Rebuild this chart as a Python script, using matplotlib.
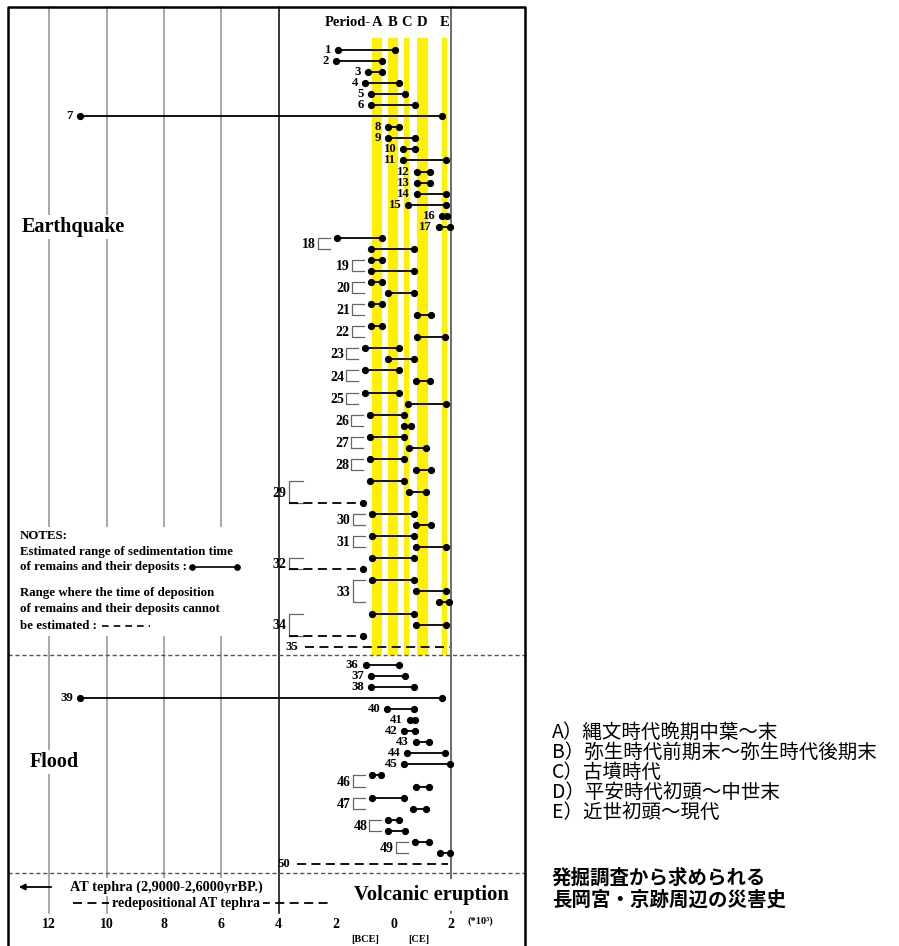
"""Disaster history around Nagaoka palace / Kyoto from excavation records."""

import matplotlib

matplotlib.use("Agg")
import matplotlib.pyplot as plt
from matplotlib.patches import Rectangle

# x values are in 10^3 years, negative = BCE
BAND_NAMES = ["A", "B", "C", "D", "E"]
BAND_LO = [-0.76, -0.20, 0.38, 0.81, 1.70]
BAND_HI = [-0.41, 0.17, 0.55, 1.21, 1.87]

# earthquake rows: record number, start, end, kind (s = dated range, d = undatable + end dot, n = undatable)
EQ_REC = [1, 2, 3, 4, 5, 6, 7, 8, 9, 10, 11, 12, 13, 14, 15, 16, 17,
          18, 18, 19, 19, 20, 20, 21, 21, 22, 22, 23, 23, 24, 24, 25, 25,
          26, 26, 27, 27, 28, 28, 29, 29, 29, 30, 30, 31, 31, 32, 32,
          33, 33, 33, 34, 34, 34, 35]
EQ_START = [-1.94, -2.01, -0.88, -0.99, -0.79, -0.79, -10.92, -0.20, -0.20, 0.34, 0.34, 0.81, 0.81, 0.81, 0.52, 1.70, 1.59,
            -1.98, -0.79, -0.79, -0.79, -0.79, -0.20, -0.79, 0.81, -0.79, 0.81, -0.99, -0.20, -0.99, 0.78, -0.98, 0.49,
            -0.81, 0.38, -0.81, 0.55, -0.81, 0.77, -0.81, 0.55, -3.65, -0.76, 0.77, -0.76, 0.77, -0.76, -3.65,
            -0.76, 0.77, 1.59, -0.76, 0.77, -3.65, -3.08]
EQ_END = [0.05, -0.39, -0.39, 0.19, 0.40, 0.75, 1.70, 0.19, 0.75, 0.75, 1.82, 1.27, 1.27, 1.82, 1.82, 1.85, 1.97,
          -0.41, 0.72, -0.41, 0.72, -0.41, 0.72, -0.41, 1.30, -0.41, 1.79, 0.20, 0.72, 0.20, 1.27, 0.20, 1.82,
          0.38, 0.60, 0.38, 1.12, 0.38, 1.30, 0.38, 1.12, -1.05, 0.71, 1.30, 0.71, 1.82, 0.71, -1.07,
          0.71, 1.82, 1.94, 0.71, 1.82, -1.06, 1.97]
EQ_KIND = ["s"] * 41 + ["d"] + ["s"] * 5 + ["d"] + ["s"] * 5 + ["d", "n"]

# flood rows
FL_REC = [36, 37, 38, 39, 40, 41, 42, 43, 44, 45, 46, 46, 47, 47, 48, 48, 49, 49, 50]
FL_START = [-0.97, -0.79, -0.79, -10.92, -0.22, 0.57, 0.37, 0.77, 0.48, 0.38, -0.76, 0.78, -0.76, 0.69, -0.18, -0.18, 0.75, 1.62, -3.36]
FL_END = [0.19, 0.40, 0.72, 1.70, 0.72, 0.75, 0.75, 1.25, 1.79, 1.97, -0.45, 1.25, 0.38, 1.13, 0.20, 0.40, 1.25, 1.97, 1.90]
FL_KIND = ["s"] * 18 + ["n"]

GRID_X = [-12, -10, -8, -6, -4, 2]
TICK_X = [-12, -10, -8, -6, -4, -2, 0, 2]
TICK_LABELS = ["12", "10", "8", "6", "4", "2", "0", "2"]

PERIOD_TEXT = ["A）縄文時代晩期中葉～末", "B）弥生時代前期末～弥生時代後期末", "C）古墳時代",
               "D）平安時代初頭～中世末", "E）近世初頭～現代"]
TITLE_JP = ["発掘調査から求められる", "長岡宮・京跡周辺の災害史"]

SERIF = "Liberation Serif"
CJK = ["Noto Sans CJK JP", "DejaVu Sans"]

# pixel -> data helpers for layout
X0, SX = 393.5, 28.7
Y0, SY = 50.0, 11.05


def px(p):
    return (p - X0) / SX


def py(p):
    return (p - Y0) / SY


FLOOD_ROW0 = py(665)

fig = plt.figure(figsize=(8.99, 9.46), dpi=100)
ax = fig.add_axes([0, 0, 1, 1])
ax.set_xlim(px(0), px(899))
ax.set_ylim(py(946), py(0))
ax.axis("off")

# frame
ax.plot([px(8), px(8), px(525), px(525)], [py(946), py(7), py(7), py(946)], color="k", lw=1.8, zorder=6)

# vertical grid
for gx in GRID_X:
    col = "k" if gx == -4 else ("#444444" if gx == 2 else "#8f8f8f")
    ax.plot([gx, gx], [py(7), py(913)], color=col, lw=1.1, zorder=1)

# period bands
for lo, hi, name in zip(BAND_LO, BAND_HI, BAND_NAMES):
    ax.add_patch(Rectangle((lo, py(38)), hi - lo, py(655) - py(38), color="#FFEF00", lw=0, zorder=2))
    ax.text((lo + hi) / 2, py(23), name, ha="center", va="center", fontsize=10.5, fontweight="bold", family=SERIF)
ax.text(px(371), py(23), "Period-", ha="right", va="center", fontsize=10.5, fontweight="bold", family=SERIF)

# section separators
for sy in [655, 873]:
    ax.plot([px(8), px(525)], [py(sy), py(sy)], color="#555555", lw=1.0, ls=(0, (3, 2)), zorder=3)

DASH = (0, (5, 3))


def draw_rows(recs, starts, ends, kinds, row0):
    groups = {}
    for i, (rec, s, e, k) in enumerate(zip(recs, starts, ends, kinds)):
        y = row0 + i
        if k == "s":
            ax.plot([s, e], [y, y], color="k", lw=1.3, marker="o", ms=4.2, zorder=5)
        else:
            ax.plot([s, e], [y, y], color="k", lw=1.3, ls=DASH, zorder=5)
            if k == "d":
                ax.plot(e, y, "o", color="k", ms=4.2, zorder=5)
        groups.setdefault(rec, []).append((y, s, k))

    lab = dict(ha="right", va="center", fontsize=9.2, fontweight="bold", family=SERIF, zorder=5)
    for rec, rows in groups.items():
        if len(rows) == 1:
            y, s, k = rows[0]
            ax.text(s - 7 / SX, y, str(rec), **lab)
            continue
        ys = [r[0] for r in rows]
        dashed = [r[1] for r in rows if r[2] != "s"]
        left = dashed[0] if dashed else min(r[1] for r in rows) - 19 / SX
        width = 14 / SX if dashed else 12 / SX
        ax.plot([left + width, left, left, left + width], [ys[0], ys[0], ys[-1], ys[-1]],
                color="#666666", lw=0.9, zorder=4)
        ax.text(left - 2 / SX, (ys[0] + ys[-1]) / 2 + 0.1, str(rec), fontsize=10,
                **{k: v for k, v in lab.items() if k != "fontsize"})


draw_rows(EQ_REC, EQ_START, EQ_END, EQ_KIND, 0)
draw_rows(FL_REC, FL_START, FL_END, FL_KIND, FLOOD_ROW0)

white = dict(facecolor="white", edgecolor="none", pad=1.5)
bold = dict(fontweight="bold", family=SERIF)

ax.text(px(22), py(227), "Earthquake", ha="left", va="center", fontsize=14.5, bbox=white, zorder=3, **bold)
ax.text(px(30), py(762), "Flood", ha="left", va="center", fontsize=14.5, bbox=white, zorder=3, **bold)

# notes block
ax.add_patch(Rectangle((px(12), py(527)), px(245) - px(12), py(636) - py(527), color="white", lw=0, zorder=3))
notes = ["NOTES:", "Estimated range of sedimentation time", "of remains and their deposits :",
         "Range where the time of deposition", "of remains and their deposits cannot", "be estimated :"]
for t, yy in zip(notes, [536, 552, 567, 593, 609, 626]):
    ax.text(px(20), py(yy), t, ha="left", va="center", fontsize=9.3, zorder=4, **bold)
ax.plot([px(192), px(237)], [py(567), py(567)], color="k", lw=1.2, marker="o", ms=3.8, zorder=4)
ax.plot([px(102), px(150)], [py(626), py(626)], color="k", lw=1.2, ls=(0, (4, 3)), zorder=4)

# volcanic section
ax.annotate("", xy=(px(16), py(887)), xytext=(px(54), py(887)),
            arrowprops=dict(arrowstyle="-|>", color="k", lw=1.3, mutation_scale=9), zorder=4)
ax.text(px(70), py(887), "AT tephra (2,9000-2,6000yrBP.)", ha="left", va="center", fontsize=10.3,
        bbox=white, zorder=4, **bold)
ax.plot([px(73), px(330)], [py(903), py(903)], color="k", lw=1.3, ls=(0, (5, 3)), zorder=3)
ax.text(px(186), py(903), "redepositional AT tephra", ha="center", va="center", fontsize=10,
        bbox=dict(facecolor="white", edgecolor="none", pad=2.5), zorder=4, **bold)
ax.text(px(431), py(895), "Volcanic eruption", ha="center", va="center", fontsize=14.8,
        bbox=dict(facecolor="white", edgecolor="none", pad=4), zorder=4, **bold)

# x tick labels
for tx, tl in zip(TICK_X, TICK_LABELS):
    ax.text(tx, py(924), tl, ha="center", va="center", fontsize=10, **bold)
ax.text(px(365), py(939), "[BCE]", ha="center", va="center", fontsize=7.5, **bold)
ax.text(px(419), py(939), "[CE]", ha="center", va="center", fontsize=7.5, **bold)
ax.text(px(480), py(921), "(*10³)", ha="center", va="center", fontsize=7.5, **bold)

# Japanese legend
for t, yy in zip(PERIOD_TEXT, [732, 752, 772, 792, 812]):
    ax.text(px(552), py(yy), t, ha="left", va="center", fontsize=14, family=CJK)
for t, yy in zip(TITLE_JP, [878, 900]):
    ax.text(px(552), py(yy), t, ha="left", va="center", fontsize=14, fontweight="bold", family=CJK)

fig.savefig("out.png", dpi=100)
